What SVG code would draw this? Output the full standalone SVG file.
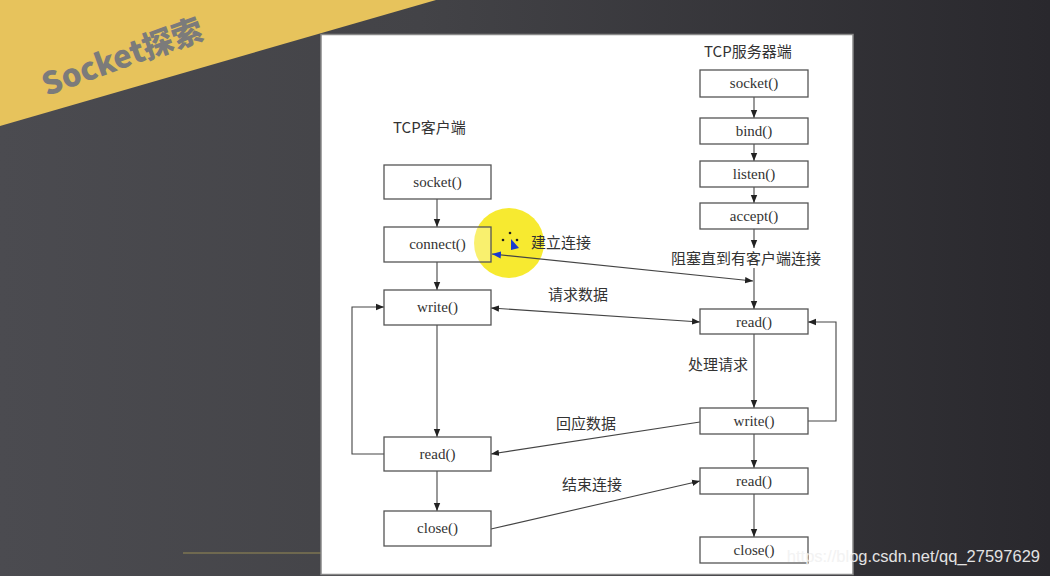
<svg xmlns="http://www.w3.org/2000/svg" width="1050" height="576" viewBox="0 0 1050 576">
<style>
.box{fill:#fff;stroke:#555;stroke-width:1.3}
.lbl{font-family:"Liberation Serif",serif;font-size:15px;fill:#333;text-anchor:middle}
.cn{font-family:"Noto Sans CJK SC",sans-serif;font-size:15px;fill:#333}
.ln{fill:none;stroke:#444;stroke-width:1.1}
</style>
<defs>
<linearGradient id="bg" x1="0" y1="0" x2="1" y2="0">
<stop offset="0" stop-color="#4b4b50"/>
<stop offset="0.4" stop-color="#434347"/>
<stop offset="1" stop-color="#29282d"/>
</linearGradient>
<marker id="ah" viewBox="0 0 10 10" refX="10" refY="5" markerWidth="8" markerHeight="8" orient="auto-start-reverse" markerUnits="userSpaceOnUse">
<path d="M0,1 L10,5 L0,9 z" fill="#222"/>
</marker>
<marker id="ahb" viewBox="0 0 10 10" refX="10" refY="5" markerWidth="9" markerHeight="9" orient="auto-start-reverse" markerUnits="userSpaceOnUse">
<path d="M0,1 L10,5 L0,9 z" fill="#1a3ad0"/>
</marker>
</defs>
<rect x="0" y="0" width="1050" height="576" fill="url(#bg)"/>
<polygon points="0,0 436,0 0,126" fill="#e7c35c"/>
<text x="122" y="68" transform="rotate(-20 122 56)" font-family="'Noto Sans CJK SC','DejaVu Sans',sans-serif" font-size="31" font-weight="900" fill="#7b7b7b" text-anchor="middle">Socket探索</text>
<line x1="183" y1="553" x2="322" y2="553" stroke="#7d7452" stroke-width="1.5"/>
<rect x="321" y="34.5" width="532" height="540" fill="#fff" stroke="#888" stroke-width="1.5"/>
<circle cx="509" cy="243" r="35" fill="#f6e81e" opacity="0.92"/>
<text class="cn" x="393" y="133" font-family="'Liberation Serif','Noto Sans CJK SC',serif">TCP客户端</text>
<text class="cn" x="704" y="57">TCP服务器端</text>
<g id="connectors">
<line class="ln" x1="437" y1="199" x2="437" y2="227" marker-end="url(#ah)"/>
<line class="ln" x1="437" y1="262" x2="437" y2="290" marker-end="url(#ah)"/>
<line class="ln" x1="437" y1="325" x2="437" y2="437" marker-end="url(#ah)"/>
<line class="ln" x1="437" y1="471" x2="437" y2="511" marker-end="url(#ah)"/>
<polyline class="ln" points="384,454 352,454 352,307 384,307" marker-end="url(#ah)"/>
<line class="ln" x1="754" y1="97" x2="754" y2="118" marker-end="url(#ah)"/>
<line class="ln" x1="754" y1="144" x2="754" y2="161" marker-end="url(#ah)"/>
<line class="ln" x1="754" y1="187" x2="754" y2="203" marker-end="url(#ah)"/>
<line class="ln" x1="754" y1="229" x2="754" y2="248" marker-end="url(#ah)"/>
<line class="ln" x1="754" y1="268" x2="754" y2="309" marker-end="url(#ah)"/>
<line class="ln" x1="754" y1="334" x2="754" y2="408" marker-end="url(#ah)"/>
<line class="ln" x1="754" y1="434" x2="754" y2="468" marker-end="url(#ah)"/>
<line class="ln" x1="754" y1="494" x2="754" y2="537" marker-end="url(#ah)"/>
<polyline class="ln" points="808,421 836,421 836,322 808,322" marker-end="url(#ah)"/>
<line class="ln" x1="492" y1="254" x2="753" y2="281" marker-end="url(#ah)" marker-start="url(#ahb)"/>
<line class="ln" x1="491" y1="308" x2="700" y2="322" marker-end="url(#ah)" marker-start="url(#ah)"/>
<line class="ln" x1="700" y1="422" x2="491" y2="454" marker-end="url(#ah)"/>
<line class="ln" x1="491" y1="529" x2="700" y2="481" marker-end="url(#ah)"/>
</g>
<path d="M511,250 l0,-11 l8,9 z" fill="#1a3ad0"/>
<g fill="#222"><circle cx="510" cy="233" r="1.3"/><circle cx="503" cy="240" r="1.3"/><circle cx="517" cy="240" r="1.3"/></g>
<text class="cn" x="531" y="248">建立连接</text>
<text class="cn" x="671" y="264">阻塞直到有客户端连接</text>
<text class="cn" x="548" y="300">请求数据</text>
<text class="cn" x="688" y="370">处理请求</text>
<text class="cn" x="556" y="429">回应数据</text>
<text class="cn" x="562" y="490">结束连接</text>
<g id="c_socket"><rect class="box" x="384" y="165" width="107" height="34"/><text class="lbl" x="437.5" y="187">socket()</text></g>
<g id="c_connect"><rect class="box" x="384" y="227" width="107" height="35" fill-opacity="0.3"/><text class="lbl" x="437.5" y="249">connect()</text></g>
<g id="c_write"><rect class="box" x="384" y="290" width="107" height="35"/><text class="lbl" x="437.5" y="312">write()</text></g>
<g id="c_read"><rect class="box" x="384" y="437" width="107" height="34"/><text class="lbl" x="437.5" y="459">read()</text></g>
<g id="c_close"><rect class="box" x="384" y="511" width="107" height="35"/><text class="lbl" x="437.5" y="533">close()</text></g>
<g id="s_socket"><rect class="box" x="700" y="70" width="108" height="27"/><text class="lbl" x="754" y="88">socket()</text></g>
<g id="s_bind"><rect class="box" x="700" y="118" width="108" height="26"/><text class="lbl" x="754" y="136">bind()</text></g>
<g id="s_listen"><rect class="box" x="700" y="161" width="108" height="26"/><text class="lbl" x="754" y="179">listen()</text></g>
<g id="s_accept"><rect class="box" x="700" y="203" width="108" height="26"/><text class="lbl" x="754" y="221">accept()</text></g>
<g id="s_read"><rect class="box" x="700" y="309" width="108" height="25"/><text class="lbl" x="754" y="327">read()</text></g>
<g id="s_write"><rect class="box" x="700" y="408" width="108" height="26"/><text class="lbl" x="754" y="426">write()</text></g>
<g id="s_read2"><rect class="box" x="700" y="468" width="108" height="26"/><text class="lbl" x="754" y="486">read()</text></g>
<g id="s_close"><rect class="box" x="700" y="537" width="108" height="26"/><text class="lbl" x="754" y="555">close()</text></g>
<text x="1040" y="562" font-family="'Liberation Sans',Arial,sans-serif" font-size="16.5" fill="#f2f2f2" text-anchor="end" opacity="0.92">https://blog.csdn.net/qq_27597629</text>
</svg>
